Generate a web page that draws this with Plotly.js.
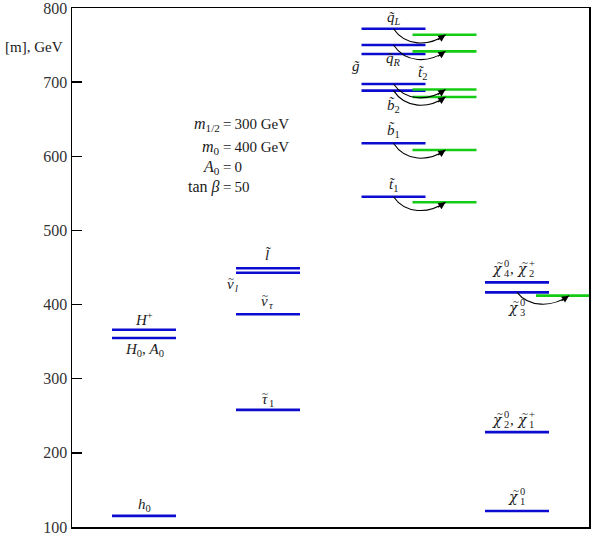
<!DOCTYPE html>
<html>
<head>
<meta charset="utf-8">
<script src="https://cdn.plot.ly/plotly-3.0.1.min.js"></script>
<style>html,body{margin:0;padding:0;background:#fff;}#chart{width:592px;height:535px;}</style>
</head>
<body>
<div id="chart"></div>
<script>
// ---- data (masses in GeV) ----
const higgsNames   = ['h0', 'H0, A0', 'H+'];
const higgsMasses  = [115, 355, 366];
const sleptonNames  = ['stau1', 'snu_tau', 'snu_l', 'sl'];
const sleptonMasses = [258, 387, 443, 449];
const squarkNames   = ['st1', 'sb1', 'sb2', 'st2', 'gluino', 'sqR', 'sqL'];
const squarkMasses  = [545.5, 617.5, 688.5, 697.5, 738, 750, 772];
const gauginoNames  = ['chi1_0', 'chi2_0/chi1+', 'chi3_0', 'chi4_0/chi2+'];
const gauginoMasses = [121.5, 228, 416.5, 430];
// shifted (green) levels and the level each arrow starts from
const squarkShiftFrom = [772, 750, 697.5, 688.5, 617.5, 545.5];
const squarkShiftTo   = [764, 741.5, 690, 680, 608.5, 538];
const gauginoShiftFrom = [416.5];
const gauginoShiftTo   = [412];
const yTicks = [100, 200, 300, 400, 500, 600, 700, 800];

// ---- layout helpers (x in plot pixel units) ----
const colX = [72, 196, 321.5, 445];
const half = 32;
const shiftDX = 51;
const PXPERGEV = 519 / 700;
const blue = '#0c0cd0', green = '#14cc14';

function segs(cx, masses) {
  const xs = [], ys = [];
  masses.forEach(m => { xs.push(cx - half, cx + half, null); ys.push(m, m, null); });
  return {xs, ys};
}
const blueX = [], blueY = [];
[[colX[0], higgsMasses], [colX[1], sleptonMasses], [colX[2], squarkMasses], [colX[3], gauginoMasses]]
  .forEach(([c, ms]) => { const s = segs(c, ms); blueX.push(...s.xs); blueY.push(...s.ys); });
const greenX = [], greenY = [];
[[colX[2] + shiftDX, squarkShiftTo], [colX[3] + shiftDX, gauginoShiftTo]]
  .forEach(([c, ms]) => { const s = segs(c, ms); greenX.push(...s.xs); greenY.push(...s.ys); });

const traces = [
  {x: blueX, y: blueY, mode: 'lines', line: {color: blue, width: 2.6}, hoverinfo: 'skip'},
  {x: greenX, y: greenY, mode: 'lines', line: {color: green, width: 2.6}, hoverinfo: 'skip'}
];

const shapes = [];
const annotations = [];
function arrow(cx, m0, m1) {
  const x0 = cx, x3 = cx + 52;
  const yb = m1 - 16;
  shapes.push({type: 'path', xref: 'x', yref: 'y',
    path: `M ${x0},${m0} C ${x0 + 12},${yb} ${x0 + 35},${yb} ${x3},${m1}`,
    line: {color: 'black', width: 1.1}});
  annotations.push({x: x3, y: m1, xref: 'x', yref: 'y', ax: -9, ay: 6, text: '',
    showarrow: true, arrowhead: 2, arrowsize: 1.3, arrowwidth: 1.1, arrowcolor: 'black'});
}
squarkShiftFrom.forEach((m, i) => arrow(colX[2], m, squarkShiftTo[i]));
gauginoShiftFrom.forEach((m, i) => arrow(colX[3], m, gauginoShiftTo[i]));

const pyToM = py => 100 + (527 - py) / PXPERGEV;
const serif = 'Liberation Serif, DejaVu Serif, serif';
const dserif = 'DejaVu Serif, serif';
function label(x, py, text, size, anchor, fam, yshift) {
  annotations.push({x: x, y: pyToM(py), xref: 'x', yref: 'y', text: text, showarrow: false,
    xanchor: anchor || 'center', yanchor: 'middle', yshift: yshift || 0, borderpad: 0, borderwidth: 0,
    font: {family: fam || serif, size: size || 15, color: '#1a1a1a'}});
}
const T = '\u0303';
label(colX[0], 505, '<i>h</i><sub>0</sub>');
label(colX[0], 319, '<i>H</i><sup>+</sup>');
label(colX[0], 350, '<i>H</i><sub>0</sub>, <i>A</i><sub>0</sub>');
label(colX[1], 255, '<i>l' + T + '</i>');
// greek letters with tilde: base letter + tilde drawn separately for reliable placement
function greek(xc, py, letter, sub) {
  label(xc, py, '<i>' + letter + '</i>', 15, 'right');
  label(xc - 3, py, '~', 11, 'center', serif, 6);
  label(xc + 0.5, py, sub, 10.5, 'left', serif, -4.5);
}
greek(162, 284, 'ν', '<i>l</i>');
greek(196, 301, 'ν', '<i>τ</i>');
greek(196, 399, 'τ', '1');
label(colX[2], 18, '<i>q' + T + '</i><sub><i>L</i></sub>');
label(colX[2], 59, '<i>q' + T + '</i><sub><i>R</i></sub>');
label(284, 66, '<i>g' + T + '</i>');
label(350, 73, '<i>t' + T + '</i><sub>2</sub>');
label(colX[2], 106, '<i>b' + T + '</i><sub>2</sub>');
label(colX[2], 131, '<i>b' + T + '</i><sub>1</sub>');
label(colX[2], 185, '<i>t' + T + '</i><sub>1</sub>');
// chi labels with stacked super/subscripts
function chi(xr, py, sup, sub) {
  label(xr, py, '<i>χ</i>', 14, 'right', dserif);
  label(xr - 3.5, py, '~', 11, 'center', serif, 7);
  label(xr + 0.5, py, sup, 10.5, 'left', serif, 6);
  label(xr + 0.5, py, sub, 10.5, 'left', serif, -4.5);
}
function chiPair(x1, x2, py, s1, b1, s2, b2) {
  chi(x1, py, s1, b1);
  label(x1 + 6.5, py, ',', 15, 'left');
  chi(x2, py, s2, b2);
}
chiPair(431, 456, 269, '0', '4', '+', '2');
chi(447, 308, '0', '3');
chiPair(431, 456, 420, '0', '2', '+', '1');
chi(447, 497, '0', '1');

// parameter block
const parLeft  = ['<i>m</i><sub>1/2</sub>', '<i>m</i><sub>0</sub>', '<i>A</i><sub>0</sub>', 'tan <i>β</i>'];
const parRight = ['=\u2009300 GeV', '=\u2009400 GeV', '=\u20090', '=\u200950'];
const parPy = [124, 147, 167, 187];
parLeft.forEach((t, i) => {
  label(148, parPy[i], t, 16, 'right');
  label(151, parPy[i], parRight[i], 15, 'left');
});

annotations.push({xref: 'paper', yref: 'y', x: -0.074, y: pyToM(47), text: '[m], GeV',
  showarrow: false, xanchor: 'center', yanchor: 'middle', font: {family: serif, size: 15, color: '#1a1a1a'}});

const layout = {
  width: 592, height: 535,
  margin: {l: 72, r: 3, t: 8, b: 8},
  paper_bgcolor: 'white', plot_bgcolor: 'white',
  showlegend: false,
  xaxis: {range: [0, 517], showticklabels: false, ticks: '', showgrid: false, zeroline: false,
    showline: true, mirror: true, linecolor: 'black', linewidth: 1.5, fixedrange: true},
  yaxis: {range: [100, 800], tickvals: yTicks, ticktext: yTicks.map(String), ticks: 'inside', ticklen: 10,
    tickcolor: 'black', tickwidth: 1.3, showgrid: false, zeroline: false, showline: true, mirror: true,
    ticklabeloverflow: 'allow',
    linecolor: 'black', linewidth: 1.5, tickfont: {family: serif, size: 16, color: '#333'}, fixedrange: true},
  shapes: shapes,
  annotations: annotations
};
Plotly.newPlot('chart', traces, layout, {displayModeBar: false, staticPlot: true});
</script>
</body>
</html>
